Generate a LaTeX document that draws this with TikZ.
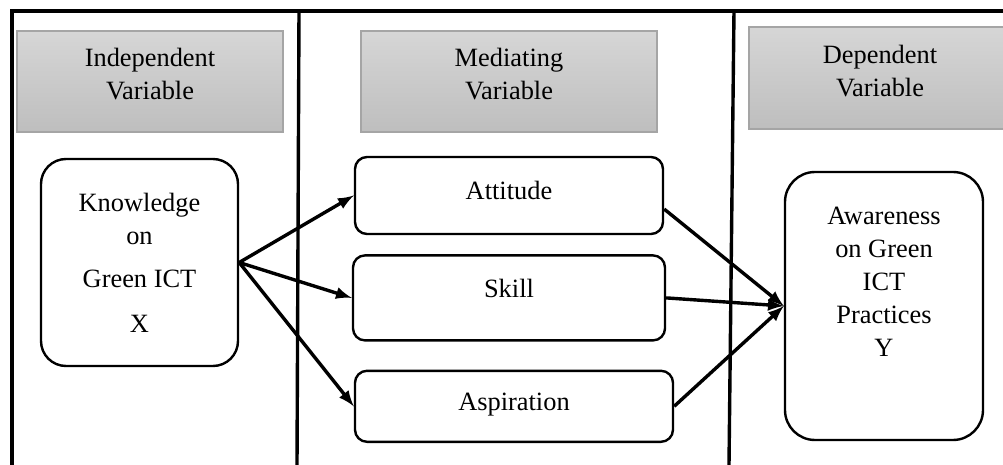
\documentclass[tikz,border=0pt]{standalone}
\usepackage{fontspec}
\setmainfont{Liberation Serif}
\usetikzlibrary{arrows, positioning}
\definecolor{hdtop}{RGB}{214,214,214}
\definecolor{hdbot}{RGB}{190,190,190}
\definecolor{hdline}{RGB}{165,165,165}
\tikzstyle{header} = [rectangle, draw=hdline, line width=0.6pt, top color=hdtop, bottom color=hdbot, minimum height=50.5pt, align=center]
\tikzstyle{roundbox} = [rectangle, rounded corners=6pt, draw=black, line width=1.2pt]
\tikzstyle{bigbox} = [rectangle, draw=black, line width=1.2pt, align=center]
\tikzstyle{arrow} = [line width=1.7pt,->,>=latex]
\tikzstyle{divider} = [line width=1.7pt]

\begin{document}
\begin{tikzpicture}[x=0.5pt, y=-0.5pt, font=\fontsize{13.2}{16.5}\selectfont]
\useasboundingbox (0,0) rectangle (1003,465);
% frame and column lines
\draw [divider] (1003,11) -- (12,11) -- (12,465);
\draw [divider] (299,11) -- (297,465);
\draw [divider] (734,11) -- (729,465);
% headers
\node (indep) [header, minimum width=133pt] at (150,81.5) {Independent\\Variable\\[-9pt]\mbox{}};
\node (medi) [header, minimum width=148pt] at (509,81.5) {Mediating\\Variable\\[-9pt]\mbox{}};
\node (dep) [header, minimum width=131pt, minimum height=51pt] at (880,78) {Dependent\\Variable\\[-9pt]\mbox{}};
% variables
\node (know) [bigbox, rounded corners=12.5pt, minimum width=98.5pt, minimum height=103.5pt] at (139.5,262.5) {Knowledge\\on\\[5pt]Green ICT\\[6pt]X};
\node (att) [roundbox, minimum width=154pt, minimum height=38.5pt, text depth=5.5pt] at (509,195.5) {Attitude};
\node (skill) [roundbox, below=9.5pt of att, minimum width=156pt, minimum height=42.5pt, text depth=10pt] {Skill};
\node (asp) [roundbox, below=14pt of skill, xshift=2.5pt, minimum width=159pt, minimum height=35.5pt, text depth=4.5pt] {Aspiration};
\node (aware) [bigbox, rounded corners=15pt, minimum width=99pt, minimum height=134pt] at (884,306) {Awareness\\on Green\\ICT\\Practices\\Y\\[7.5pt]\mbox{}};
% paths
\draw [arrow] (know.east) -- (att.west);
\draw [arrow] (know.east) -- (skill.west);
\draw [arrow] (know.east) -- (asp.west);
\draw [arrow] (att.-5) -- (aware.west);
\draw [arrow] (skill.east) -- (aware.west);
\draw [arrow] (asp.east) -- (aware.west);
\end{tikzpicture}
\end{document}
